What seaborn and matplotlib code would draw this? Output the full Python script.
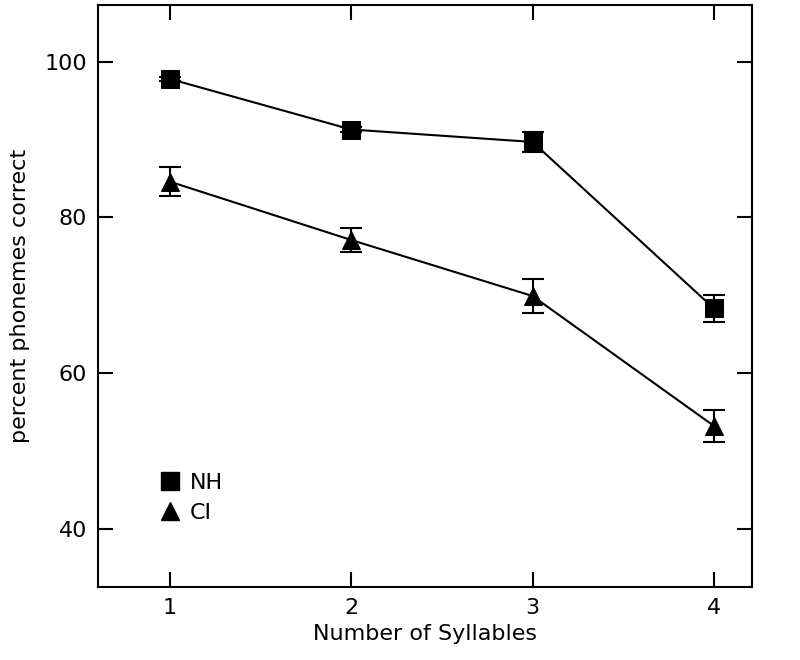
import pandas as pd
import numpy as np
import matplotlib.pyplot as plt
import seaborn as sns
from matplotlib.lines import Line2D

# values
syllables = [1, 2, 3, 4]
nh_pct = [97.8, 91.3, 89.7, 68.3]
nh_err = [0.3, 0.3, 1.3, 1.7]
ci_pct = [84.6, 77.1, 69.9, 53.2]
ci_err = [1.9, 1.6, 2.2, 2.0]
groups = ["NH", "CI"]
group_markers = {"NH": "s", "CI": "^"}

df = pd.DataFrame({
    "syllables": syllables * 2,
    "pct": nh_pct + ci_pct,
    "err": nh_err + ci_err,
    "group": ["NH"] * 4 + ["CI"] * 4,
})

sns.set_style("ticks")
plt.rcParams['font.family'] = ['DejaVu Sans']
plt.rcParams['text.color'] = 'black'
plt.rcParams['axes.labelcolor'] = 'black'
plt.rcParams['xtick.color'] = 'black'
plt.rcParams['ytick.color'] = 'black'

fig = plt.figure(figsize=(8, 6.6), dpi=100)
ax = fig.add_axes([0.1225, 0.1106, 0.8175, 0.8818])

# lines + markers
sns.lineplot(data=df, x="syllables", y="pct", style="group",
             markers=group_markers, dashes=False, color="black",
             markersize=13, markeredgecolor="black", linewidth=1.5,
             legend=False, ax=ax)

# error bars
for g in groups:
    sub = df[df["group"] == g]
    ax.errorbar(sub["syllables"], sub["pct"], yerr=sub["err"], fmt="none",
                ecolor="black", elinewidth=1.5, capsize=8, capthick=1.5)

ax.set_xlim(0.604, 4.21)
ax.set_ylim(32.5, 107.3)
ax.set_xticks(syllables)
ax.set_yticks([40, 60, 80, 100])
ax.tick_params(axis="both", which="major", direction="in", length=11,
               width=1.5, labelsize=16, top=True, right=True, pad=8,
               colors="black")
for s in ax.spines.values():
    s.set_linewidth(1.5)
    s.set_color("black")

ax.set_xlabel("Number of Syllables", fontsize=16, labelpad=4)
ax.set_ylabel("percent phonemes correct", fontsize=16, labelpad=10)

handles = [Line2D([], [], linestyle="none", marker=group_markers[g],
                  color="black", markersize=13) for g in groups]
ax.legend(handles, groups, loc="lower left", bbox_to_anchor=(0.09, 0.11),
          frameon=False, fontsize=16, handletextpad=0.3, labelspacing=0.45,
          handlelength=1.2, borderpad=0, borderaxespad=0)

fig.savefig("out.png", dpi=100)
